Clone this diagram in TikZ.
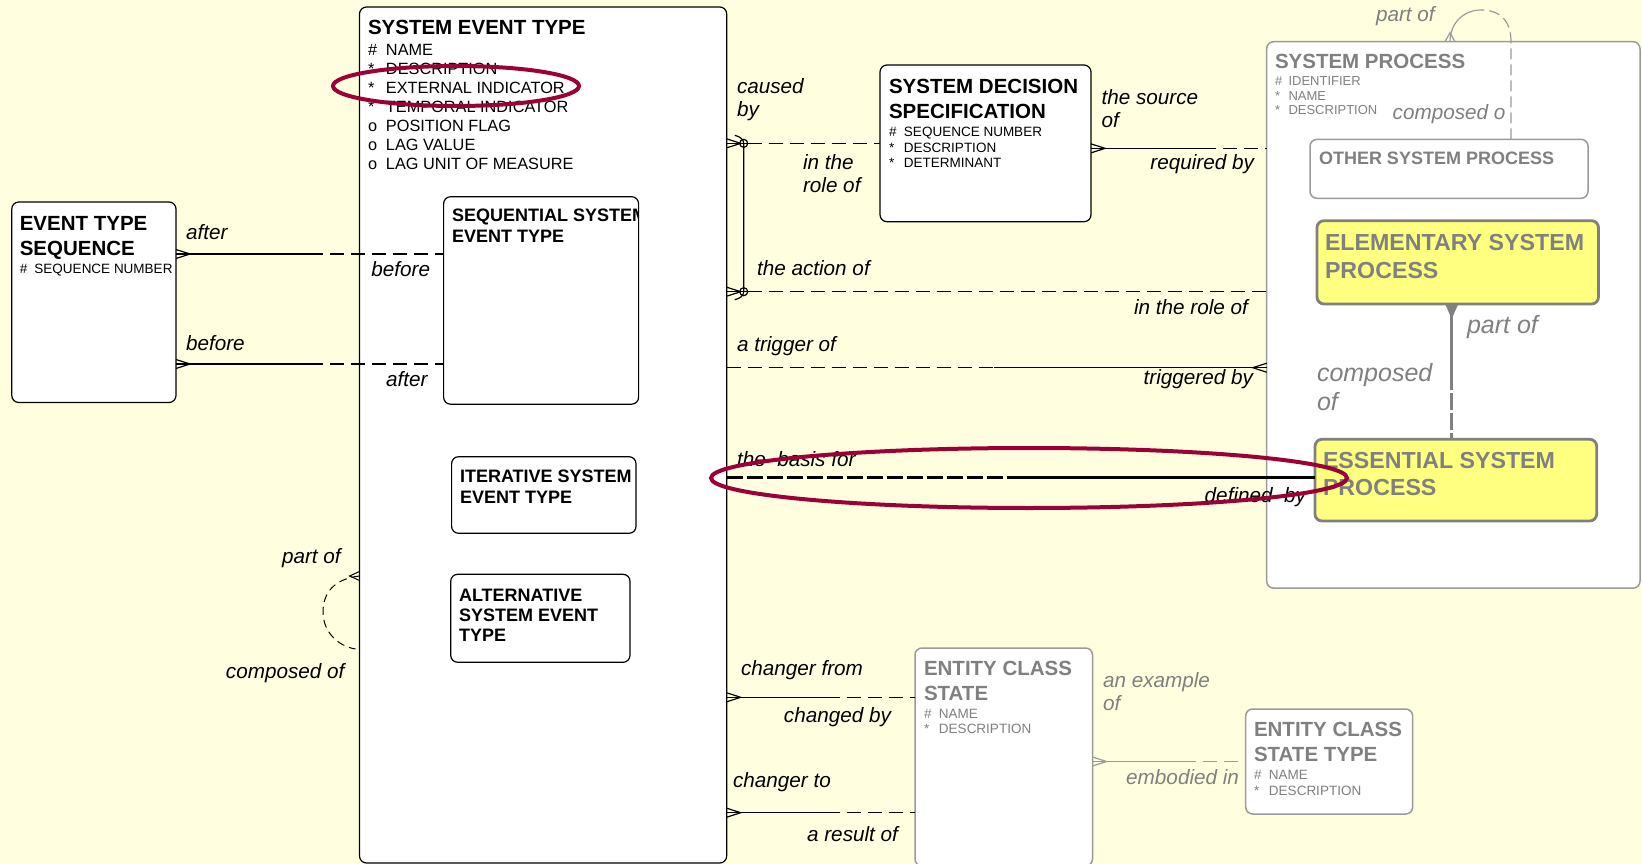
\documentclass[tikz,border=0pt]{standalone}
\usepackage{fontspec}
\setmainfont{Liberation Sans}
\usetikzlibrary{calc}
\definecolor{bg}{RGB}{255,255,224}
\definecolor{ylw}{RGB}{255,255,128}
\definecolor{gtxt}{RGB}{128,128,128}
\definecolor{gline}{RGB}{155,155,155}
\definecolor{hl}{RGB}{155,0,55}
\newcommand\ml[1]{\begin{tabular}[t]{@{}l@{}}#1\end{tabular}}
\newcommand\atr[3]{\makebox[#1][l]{#2}#3}
\newcommand\crowR[2][black]{\draw[conn,#1] ($(#2)+(0,-4.5)$) -- ($(#2)+(14,0)$) -- ($(#2)+(0,4.5)$);}
\newcommand\crowL[2][black]{\draw[conn,#1] ($(#2)+(0,-4.5)$) -- ($(#2)+(-14,0)$) -- ($(#2)+(0,4.5)$);}
\begin{document}
\begin{tikzpicture}[x=1pt,y=-1pt,
  every node/.style={inner sep=0pt,outer sep=0pt},
  ent/.style={draw=black,line width=1.2pt,rounded corners=7pt,fill=white,anchor=north west},
  gent/.style={ent,draw=gline,line width=1.5pt},
  yent/.style={ent,draw=gtxt,fill=ylw,line width=2.8pt},
  ttl/.style={anchor=base west,font={\fontsize{20.5}{25}\selectfont\bfseries}},
  sttl/.style={anchor=base west,font={\fontsize{18}{20.8}\selectfont\bfseries}},
  yttl/.style={anchor=base west,text=gtxt,font={\fontsize{23.2}{27.6}\selectfont\bfseries}},
  attr/.style={anchor=base west,font={\fontsize{16.3}{18.9}\selectfont}},
  sattr/.style={anchor=base west,font={\fontsize{13.5}{15.5}\selectfont}},
  lbl/.style={anchor=base west,font={\fontsize{20.7}{23}\selectfont\itshape}},
  rlbl/.style={lbl,anchor=base east},
  blbl/.style={anchor=base west,text=gtxt,font={\fontsize{25}{28.5}\selectfont\itshape}},
  conn/.style={line width=1.2pt},
  dsh/.style={conn,dash pattern=on 14pt off 7pt},
  gconn/.style={conn,draw=gline},
  gdsh/.style={dsh,draw=gline},
  hlring/.style={draw=hl,line width=4pt}]
\useasboundingbox (0,0) rectangle (1642,864);
\clip (0,0) rectangle (1642,864);
\fill[bg] (0,0) rectangle (1642,864);

% ---------- entities ----------
\node[ent,minimum width=164.2pt,minimum height=200.5pt] (ets) at (11.8,202) {};
\node[ent,minimum width=367.2pt,minimum height=856pt] (set) at (359.5,7) {};
\node[ent,minimum width=195pt,minimum height=207.5pt] (seq) at (443.6,196.7) {};
\node[ent,minimum width=184.4pt,minimum height=76.6pt] (itr) at (451.6,456.7) {};
\node[ent,minimum width=179.3pt,minimum height=88pt] (alt) at (450.7,574.3) {};
\node[ent,minimum width=211pt,minimum height=156.7pt] (dec) at (880,65) {};
\node[gent,minimum width=373.3pt,minimum height=546.5pt] (sp) at (1266.7,41.7) {};
\node[gent,minimum width=278pt,minimum height=59pt] (osp) at (1310,139.3) {};
\node[yent,minimum width=281.5pt,minimum height=83.3pt] (esp) at (1317,220.7) {};
\node[yent,minimum width=281.7pt,minimum height=81.7pt] (ess) at (1315,439.3) {};
\node[gent,minimum width=177.5pt,minimum height=218pt] (ecs) at (915,648) {};
\node[gent,minimum width=167pt,minimum height=105pt] (ecst) at (1245.7,709) {};

% ---------- entity texts ----------
\node[ttl] (etsT) at (19.8,230) {\ml{EVENT TYPE\\SEQUENCE}};
\node[sattr] (etsA) at (19.8,273) {\atr{14.7pt}{\#}{SEQUENCE NUMBER}};

\node[ttl] (setT) at (368,35) {SYSTEM EVENT TYPE};
\node[attr] (setA) at (368,56) {\ml{\atr{18pt}{\#}{NAME}\\\atr{18pt}{*}{DESCRIPTION}\\\atr{18pt}{*}{EXTERNAL INDICATOR}\\\atr{18pt}{*}{TEMPORAL INDICATOR}\\\atr{18pt}{o}{POSITION FLAG}\\\atr{18pt}{o}{LAG VALUE}\\\atr{18pt}{o}{LAG UNIT OF MEASURE}}};

\begin{scope}
\clip (seq.north west) rectangle (seq.south east);
\node[sttl] (seqT) at (452,222) {\ml{SEQUENTIAL SYSTEM\\EVENT TYPE}};
\end{scope}
\node[sttl,font={\fontsize{18}{20.6}\selectfont\bfseries}] (itrT) at (460,482.7) {\ml{ITERATIVE SYSTEM\\EVENT TYPE}};
\node[sttl,font={\fontsize{18}{20.4}\selectfont\bfseries}] (altT) at (459,601) {\ml{ALTERNATIVE\\SYSTEM EVENT\\TYPE}};

\node[ttl] (decT) at (889,93.3) {\ml{SYSTEM DECISION\\SPECIFICATION}};
\node[sattr] (decA) at (889,136.7) {\ml{\atr{15pt}{\#}{SEQUENCE NUMBER}\\\atr{15pt}{*}{DESCRIPTION}\\\atr{15pt}{*}{DETERMINANT}}};

\node[ttl,text=gtxt] (spT) at (1275,68.3) {SYSTEM PROCESS};
\node[sattr,text=gtxt,font={\fontsize{13}{14.5}\selectfont}] (spA) at (1275,86) {\ml{\atr{13.5pt}{\#}{IDENTIFIER}\\\atr{13.5pt}{*}{NAME}\\\atr{13.5pt}{*}{DESCRIPTION}}};
\node[ttl,text=gtxt,font={\fontsize{18}{21}\selectfont\bfseries}] (ospT) at (1319,165) {OTHER SYSTEM PROCESS};
\node[yttl] (espT) at (1325,250.7) {\ml{ELEMENTARY SYSTEM\\PROCESS}};
\node[yttl] (essT) at (1323,468.3) {\ml{ESSENTIAL SYSTEM\\PROCESS}};

\node[ttl,text=gtxt] (ecsT) at (924,675) {\ml{ENTITY CLASS\\STATE}};
\node[sattr,text=gtxt,font={\fontsize{13.5}{15}\selectfont}] (ecsA) at (924,718) {\ml{\atr{15pt}{\#}{NAME}\\\atr{15pt}{*}{DESCRIPTION}}};
\node[ttl,text=gtxt] (ecstT) at (1254,736.7) {\ml{ENTITY CLASS\\STATE TYPE}};
\node[sattr,text=gtxt,font={\fontsize{13.5}{16.5}\selectfont}] (ecstA) at (1254,779) {\ml{\atr{15pt}{\#}{NAME}\\\atr{15pt}{*}{DESCRIPTION}}};

% ---------- EVENT TYPE SEQUENCE -- SEQUENTIAL ----------
\coordinate (a1) at ($(ets.north east)+(0,52)$);
\draw[conn] (a1) -- ($(a1)+(133,0)$);
\draw[dsh] ($(a1)+(133,0)$) -- (a1 -| seq.west);
\crowR{a1}
\coordinate (a2) at ($(ets.north east)+(0,162)$);
\draw[conn] (a2) -- ($(a2)+(133,0)$);
\draw[dsh] ($(a2)+(133,0)$) -- (a2 -| seq.west);
\crowR{a2}
\node[lbl] (l1) at (186,240) {after};
\node[lbl] (l2) at (371.4,276.7) {before};
\node[lbl] (l3) at (186,350) {before};
\node[lbl] (l4) at (386,386.7) {after};

% ---------- SYSTEM EVENT TYPE -- DECISION / PROCESS (arc) ----------
\coordinate (a3) at (dec.west -| set.east);
\node[circle,draw,conn,minimum size=8pt] (o1) at ($(a3)+(17,0)$) {};
\draw[conn] (a3) -- (o1.east);
\draw[dsh] (o1.east) -- (dec.west);
\crowR{a3}
\coordinate (a4) at ($(set.north east)+(0,284.7)$);
\node[circle,draw,conn,minimum size=8pt] (o2) at ($(a4)+(17,0)$) {};
\draw[conn] (a4) -- (o2.east);
\draw[dsh] (o2.east) -- (a4 -| sp.west);
\crowR{a4}
\draw[conn] ($(o1.center)+(-9,-8)$) .. controls ($(o1.center)+(-4,-7)$) and ($(o1.center)+(0,-4)$) .. (o1.center)
  -- (o2.center) .. controls ($(o2.center)+(0,4)$) and ($(o2.center)+(-4,7)$) .. ($(o2.center)+(-9,8)$);
\node[lbl] (l5) at (737,93.3) {\ml{caused\\by}};
\node[lbl,font={\fontsize{20.7}{23}\selectfont\itshape}] (l6) at (803,170) {\ml{in the\\role of}};
\node[lbl] (l7) at (757,275) {the action of};
\node[rlbl] (l8) at (1248,314) {in the role of};

% ---------- DECISION -- SYSTEM PROCESS ----------
\coordinate (a5) at ($(dec.east)+(0,5)$);
\draw[conn] (a5) -- ($(a5)+(111,0)$);
\draw[dsh] ($(a5)+(111,0)$) -- (a5 -| sp.west);
\crowR{a5}
\node[lbl] (l9) at (1101.5,105) {\ml{the source\\of}};
\node[rlbl] (l10) at (1254,170) {required by};

% ---------- trigger ----------
\coordinate (a6) at ($(set.north east)+(0,360.7)$);
\coordinate (b6) at (a6 -| sp.west);
\draw[dsh] (a6) -- ($(a6)+(267,0)$);
\draw[conn] ($(a6)+(267,0)$) -- (b6);
\crowL{b6}
\node[lbl] (l11) at (737,351.7) {a trigger of};
\node[rlbl] (l12) at (1253,384) {triggered by};

% ---------- basis ----------
\coordinate (a7) at ($(ess.west)+(0,-2.8)$);
\coordinate (b7) at (a7 -| set.east);
\draw[line width=3.5pt,dash pattern=on 16pt off 4pt] (b7) -- ($(b7)+(294.5,0)$);
\draw[line width=3.5pt] ($(b7)+(294.5,0)$) -- (a7);
\node[lbl] (l13) at (737,466) {the\ \ basis for};
\node[rlbl] (l14) at (1306,502) {defined\ \ by};

% ---------- changer ----------
\coordinate (a8) at ($(ecs.north west)+(0,49.3)$);
\coordinate (b8) at (a8 -| set.east);
\draw[conn] (b8) -- ($(b8)+(99,0)$);
\draw[dsh] ($(b8)+(99,0)$) -- (a8);
\crowR{b8}
\coordinate (a9) at ($(ecs.north west)+(0,164.7)$);
\coordinate (b9) at (a9 -| set.east);
\draw[conn] (b9) -- ($(b9)+(99,0)$);
\draw[dsh] ($(b9)+(99,0)$) -- (a9);
\crowR{b9}
\node[lbl] (l15) at (741,675) {changer from};
\node[rlbl] (l16) at (891,722) {changed by};
\node[lbl] (l17) at (733,787) {changer to};
\node[rlbl] (l18) at (898,841) {a result of};

% ---------- ECS -- ECST ----------
\coordinate (b10) at (ecst.west -| ecs.east);
\draw[gconn] (b10) -- ($(b10)+(89,0)$);
\draw[gdsh] ($(b10)+(89,0)$) -- (ecst.west);
\crowR[gline]{b10}
\node[lbl,text=gtxt] (l19) at (1103,687) {\ml{an example\\of}};
\node[rlbl,text=gtxt] (l20) at (1239,784) {embodied in};

% ---------- ELEMENTARY -- ESSENTIAL ----------
\coordinate (a11) at ($(esp.south west)+(134.7,0)$);
\coordinate (b11) at (a11 |- ess.north);
\draw[draw=gtxt,line width=3.2pt] (a11) -- ($(a11)+(0,69)$);
\draw[draw=gtxt,line width=3.2pt,dash pattern=on 17pt off 3pt] ($(a11)+(0,69)$) -- (b11);
\fill[gtxt] ($(a11)+(-6.5,0)$) -- ($(a11)+(0,15)$) -- ($(a11)+(6.5,0)$) -- cycle;
\node[blbl] (l21) at (1467,333) {part of};
\node[blbl] (l22) at (1317,381.7) {\ml{composed\\of}};

% ---------- SYSTEM PROCESS recursive ----------
\coordinate (c1) at ($(osp.north west)+(201,0)$);
\coordinate (c2) at (c1 |- sp.north);
\coordinate (c3) at ($(sp.north west)+(183.3,0)$);
\coordinate (c4) at ($(c3)+(31,-31.7)$);
\draw[gdsh,dash pattern=on 11pt off 5pt] (c1) -- (c2) .. controls ($(c2)+(0,-22)$) and ($(c4)+(18,0)$) .. (c4);
\draw[gconn] (c4) .. controls ($(c4)+(-18,0)$) and ($(c3)+(0,-18)$) .. (c3);
\draw[gconn] ($(c3)+(-5,0)$) -- ($(c3)+(0,-9)$) -- ($(c3)+(5,0)$);
\node[lbl,text=gtxt] (l23) at (1376,21.7) {part of};
\node[lbl,text=gtxt] (l24) at (1392.7,120) {composed o};

% ---------- SYSTEM EVENT TYPE recursive ----------
\coordinate (d1) at ($(set.north west)+(0,569)$);
\coordinate (d2) at ($(set.north west)+(-4,642)$);
\draw[conn,line width=1pt,dash pattern=on 8pt off 5pt] (d1) .. controls (333,579) and (323,594) .. (323,612) .. controls (323,631) and (337,646) .. (d2);
\draw[conn,line width=1pt] ($(d1)+(0,-4.5)$) -- ($(d1)+(-10,0)$) -- ($(d1)+(0,4.5)$);
\node[rlbl] (l25) at (340.7,563.3) {part of};
\node[rlbl] (l26) at (344.5,678.3) {composed of};

% ---------- highlight rings ----------
\draw[hlring] (456,86) ellipse [x radius=123pt, y radius=20pt];
\draw[hlring] (1029,478) ellipse [x radius=318pt, y radius=30pt];
\end{tikzpicture}
\end{document}
